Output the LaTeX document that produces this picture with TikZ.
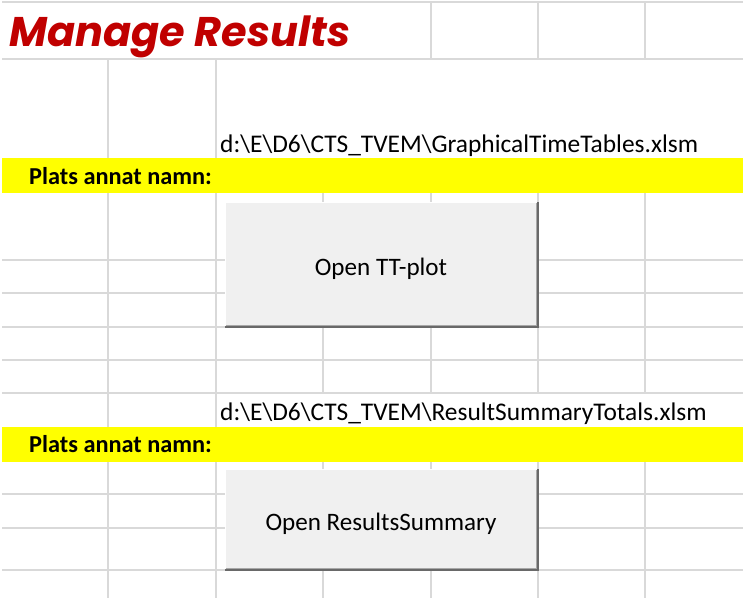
\documentclass[tikz,border=0pt]{standalone}
\usepackage{fontspec}
\setmainfont{Carlito}
\newfontfamily\titlefont{Poppins}
\definecolor{gridc}{HTML}{D9D9D9}
\definecolor{titlered}{HTML}{C00000}
\definecolor{btnface}{HTML}{F0F0F0}
\definecolor{btndark}{HTML}{696969}
\definecolor{btnmid}{HTML}{A8A8A8}
\definecolor{bandyellow}{HTML}{FFFF00}
\begin{document}
\begin{tikzpicture}[x=1bp,y=-1bp,
  gridline/.style={draw=gridc,line width=2bp},
  band/.style={fill=bandyellow},
  pathtext/.style={anchor=base west,inner sep=0,font=\fontsize{25.5}{25.5}\selectfont},
  platstext/.style={anchor=base west,inner sep=0,font=\bfseries\fontsize{24.4}{24.4}\selectfont},
  titletext/.style={anchor=base west,inner sep=0,text=titlered,font=\titlefont\bfseries\itshape\fontsize{41.6}{41.6}\selectfont},
  button/.style={fill=btnface,minimum width=314bp,inner sep=0},
  btntext/.style={anchor=base,inner sep=0,font=\fontsize{25.2}{25.2}\selectfont},
  btnshadow/.style={draw=btndark,line width=2.2bp},
  btnshade/.style={draw=btnmid,line width=1.4bp},
  btnlight/.style={draw=white,line width=1bp}]
\useasboundingbox (0,0) rectangle (743,598);
\fill[white] (0,0) rectangle (743,598);
% horizontal grid lines
\foreach \y in {2,59,260,293,327,360,393,494,528,570}
  \draw[gridline] (2,\y) -- (743,\y);
% vertical grid lines
\foreach \x in {108,216}{
  \draw[gridline] (\x,59) -- (\x,158);
  \draw[gridline] (\x,193) -- (\x,427);
  \draw[gridline] (\x,462) -- (\x,598);}
\draw[gridline] (323,193) -- (323,393);
\draw[gridline] (323,462) -- (323,598);
\foreach \x in {431,538,645}{
  \draw[gridline] (\x,2) -- (\x,59);
  \draw[gridline] (\x,193) -- (\x,393);
  \draw[gridline] (\x,462) -- (\x,598);}
% yellow bands
\fill[band] (2,158) rectangle (743,193);
\fill[band] (2,427) rectangle (743,462);
% texts
\node[titletext] (title) at (9,47) {Manage Results};
\node[pathtext] (path1) at (220,153) {d:\textbackslash E\textbackslash D6\textbackslash CTS\_TVEM\textbackslash GraphicalTimeTables.xlsm};
\node[platstext] (plats1) at (29,185) {Plats annat namn:};
\node[pathtext] (path2) at (220,420) {d:\textbackslash E\textbackslash D6\textbackslash CTS\_TVEM\textbackslash ResultSummaryTotals.xlsm};
\node[platstext] (plats2) at (29,452) {Plats annat namn:};
% buttons
\node[button,minimum height=126bp] (btn1) at (382,265) {};
\node[button,minimum height=102bp] (btn2) at (382,520) {};
\node[btntext] (btn1label) at (381,275) {Open TT-plot};
\node[btntext] (btn2label) at (381,530) {Open ResultsSummary};
\foreach \b in {btn1,btn2}{
  \draw[btnlight] ([shift={(0.5,0)}]\b.south west) |- ([shift={(0,0.5)}]\b.north east);
  \draw[btnshade] ([shift={(1,-3)}]\b.south west) -| ([shift={(-3,1)}]\b.north east);
  \draw[btnshadow] ([shift={(0,-1.1)}]\b.south west) -| ([shift={(-1.1,0)}]\b.north east);}
\end{tikzpicture}
\end{document}
